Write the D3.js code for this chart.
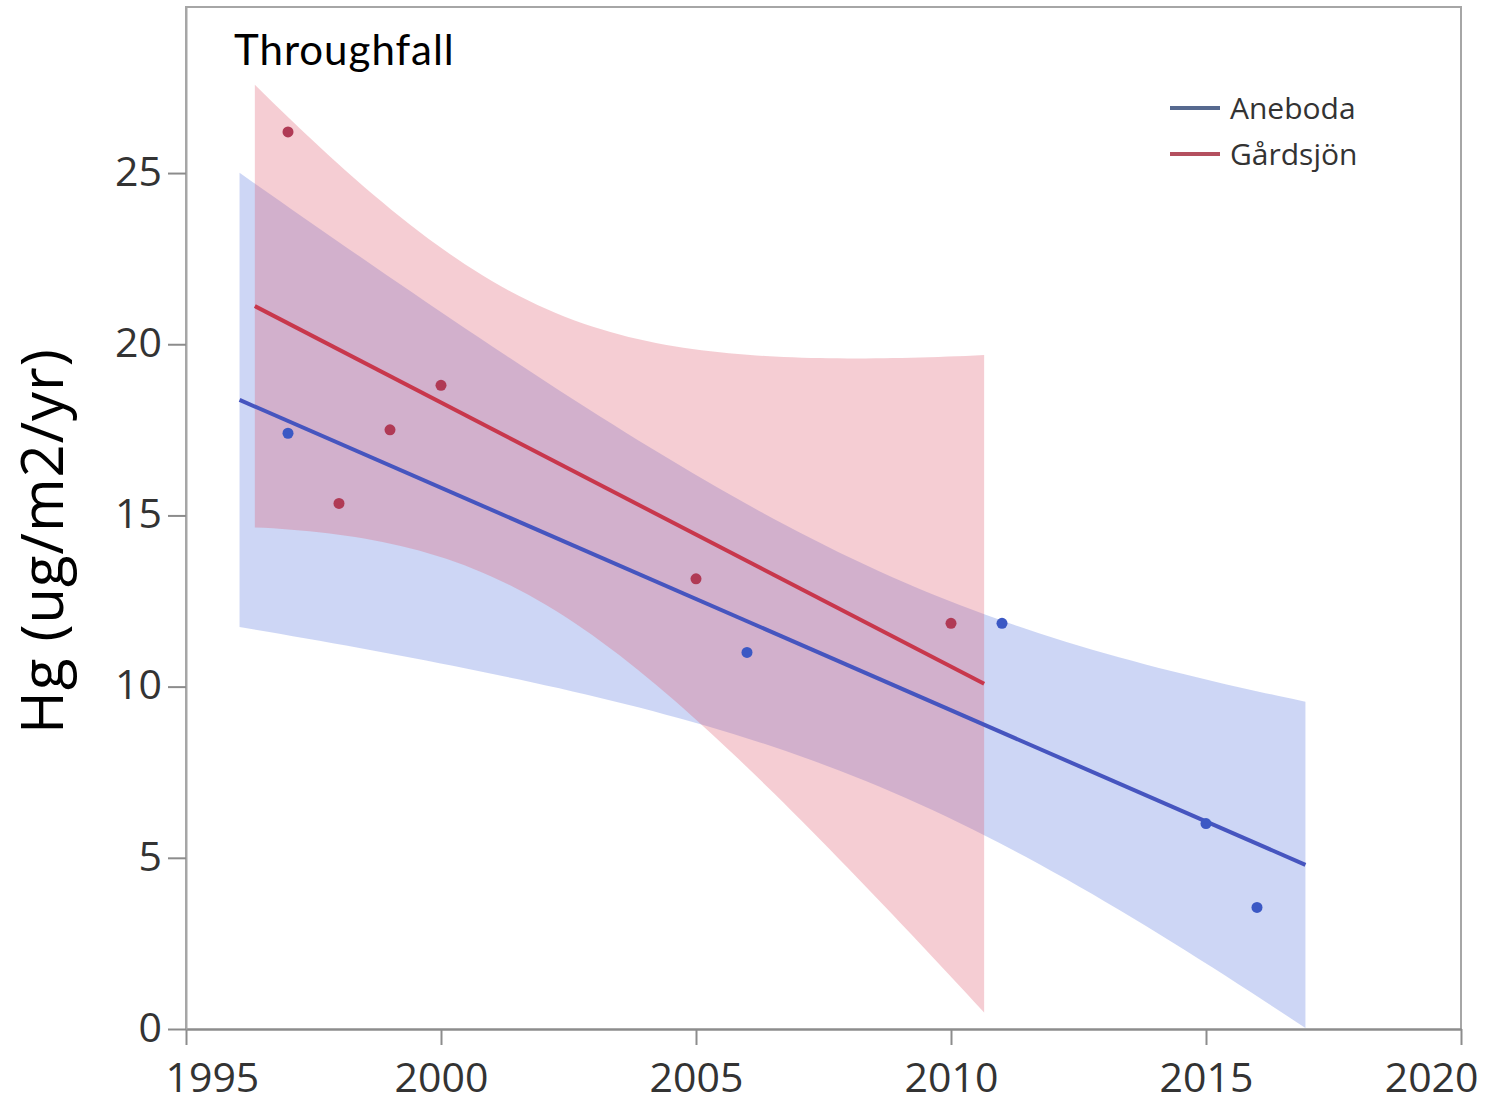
<!DOCTYPE html>
<html>
<head>
<meta charset="utf-8">
<script src="https://cdn.jsdelivr.net/npm/d3@7"></script>
<style>
  body { margin: 0; background: #fff; }
  svg { display: block; }
</style>
</head>
<body>
<svg id="chart" width="1494" height="1106"></svg>
<script>
// Annual Hg throughfall deposition at two sites
const siteNames = ["Aneboda", "Gårdsjön"];
const anebodaYears = [1997, 2006, 2011, 2015, 2016];
const anebodaHg = [17.4, 11.0, 11.85, 6.0, 3.55];
const gardsjonYears = [1997, 1998, 1999, 2000, 2005, 2010];
const gardsjonHg = [26.2, 15.35, 17.5, 18.8, 13.15, 11.85];
const xTicks = [1995, 2000, 2005, 2010, 2015, 2020];
const yTicks = [0, 5, 10, 15, 20, 25];
// two-sided 95% Student t critical values, keyed by degrees of freedom
const tCrit95 = {1: 12.706, 2: 4.303, 3: 3.182, 4: 2.776, 5: 2.571, 6: 2.447, 7: 2.365, 8: 2.306};

const svg = d3.select("#chart");
const plotL = 186, plotR = 1461, plotT = 7, plotB = 1029;

const x = d3.scaleLinear().domain([1995, 2020]).range([plotL, plotR]);
const y = d3.scaleLinear().domain([0, 29.85]).range([plotB, plotT]);

// least-squares fit with 95% confidence band for the mean
function fitWithBand(xs, ys) {
  const n = xs.length;
  const xm = d3.mean(xs), ym = d3.mean(ys);
  let sxx = 0, sxy = 0;
  xs.forEach((xi, i) => { sxx += (xi - xm) ** 2; sxy += (xi - xm) * (ys[i] - ym); });
  const slope = sxy / sxx;
  const icpt = ym - slope * xm;
  let sse = 0;
  xs.forEach((xi, i) => { sse += (ys[i] - (icpt + slope * xi)) ** 2; });
  const s = Math.sqrt(sse / (n - 2));
  const t = tCrit95[n - 2];
  const [lo, hi] = d3.extent(xs);
  const pad = (hi - lo) * 0.05;
  const x0 = lo - pad, x1 = hi + pad;
  const band = d3.range(0, 81).map(k => {
    const xv = x0 + (x1 - x0) * k / 80;
    const yv = icpt + slope * xv;
    const h = t * s * Math.sqrt(1 / n + (xv - xm) ** 2 / sxx);
    return { x: xv, y: yv, lo: yv - h, hi: yv + h };
  });
  return { band, fit: [band[0], band[band.length - 1]] };
}

const series = [
  { name: siteNames[0], years: anebodaYears, hg: anebodaHg,
    bandColor: "#5878de", lineColor: "#4655bf", dotColor: "#3b58c4", keyColor: "#56698f" },
  { name: siteNames[1], years: gardsjonYears, hg: gardsjonHg,
    bandColor: "#de5a6e", lineColor: "#c8374c", dotColor: "#b03a55", keyColor: "#b4505f" }
];
series.forEach(s => Object.assign(s, fitWithBand(s.years, s.hg)));

// plot frame
svg.append("path")
  .attr("d", `M${plotL},${plotB}V${plotT}H${plotR}V${plotB}`)
  .attr("fill", "none").attr("stroke", "#a6a6a6").attr("stroke-width", 2);

// confidence bands
const area = d3.area()
  .x(d => x(d.x)).y0(d => y(d.lo)).y1(d => y(d.hi));
svg.append("g").selectAll("path").data(series).join("path")
  .attr("d", d => area(d.band))
  .attr("fill", d => d.bandColor)
  .attr("fill-opacity", 0.3);

// fitted lines
const line = d3.line().x(d => x(d.x)).y(d => y(d.y));
svg.append("g").selectAll("path").data(series).join("path")
  .attr("d", d => line(d.fit))
  .attr("fill", "none")
  .attr("stroke", d => d.lineColor)
  .attr("stroke-width", 4);

// observations
series.forEach(s => {
  svg.append("g").selectAll("circle").data(s.years.map((yr, i) => [yr, s.hg[i]]))
    .join("circle")
    .attr("cx", d => x(d[0])).attr("cy", d => y(d[1]))
    .attr("r", 5.5)
    .attr("fill", s.dotColor);
});

// axes
const tickFont = "'Open Sans', 'Noto Sans', sans-serif";
const xAxis = svg.append("g")
  .attr("transform", `translate(0,${plotB})`)
  .call(d3.axisBottom(x).tickValues(xTicks).tickFormat(d3.format("d")).tickSize(16).tickSizeOuter(0));
const yAxis = svg.append("g")
  .attr("transform", `translate(${plotL},0)`)
  .call(d3.axisLeft(y).tickValues(yTicks).tickFormat(d3.format("d")).tickSize(18).tickSizeOuter(0));
[xAxis, yAxis].forEach(g => {
  g.select(".domain").attr("stroke", "#8c8c8c").attr("stroke-width", 2.5);
  g.selectAll(".tick line").attr("stroke", "#8c8c8c").attr("stroke-width", 2);
  g.selectAll(".tick text")
    .attr("fill", "#333")
    .style("font-family", tickFont)
    .style("font-size", "41px");
});
yAxis.select(".domain").attr("stroke", "#a6a6a6").attr("stroke-width", 2);
// end labels are pulled inward so they stay within the axis span
xAxis.selectAll(".tick text")
  .attr("y", 24).attr("dy", "0.95em")
  .attr("text-anchor", d => d === xTicks[0] ? "start" : d === xTicks[xTicks.length - 1] ? "end" : "middle")
  .attr("x", d => d === xTicks[0] ? -21 : d === xTicks[xTicks.length - 1] ? 17 : 0);
yAxis.selectAll(".tick text").attr("x", -24).attr("dy", "0.3em");

// chart title and axis title
svg.append("text")
  .attr("x", 234).attr("y", 65)
  .style("font-family", "Lato, 'Open Sans', sans-serif")
  .style("font-size", "42px")
  .style("letter-spacing", "1px")
  .attr("fill", "#000")
  .text("Throughfall");

svg.append("text")
  .attr("transform", `translate(63,${(347 + 735) / 2}) rotate(-90)`)
  .attr("text-anchor", "middle")
  .style("font-family", "'Open Sans', sans-serif")
  .style("font-size", "58px")
  .style("letter-spacing", "1px")
  .attr("fill", "#000")
  .text("Hg (ug/m2/yr)");

// legend
const legend = svg.append("g").attr("transform", "translate(1170,108)");
const item = legend.selectAll("g").data(series).join("g")
  .attr("transform", (d, i) => `translate(0,${i * 46})`);
item.append("line")
  .attr("x1", 0).attr("x2", 50)
  .attr("stroke", d => d.keyColor).attr("stroke-width", 4);
item.append("text")
  .attr("x", 60).attr("dy", "0.36em")
  .attr("fill", "#333")
  .style("font-family", tickFont)
  .style("font-size", "30px")
  .text(d => d.name);
</script>
</body>
</html>
